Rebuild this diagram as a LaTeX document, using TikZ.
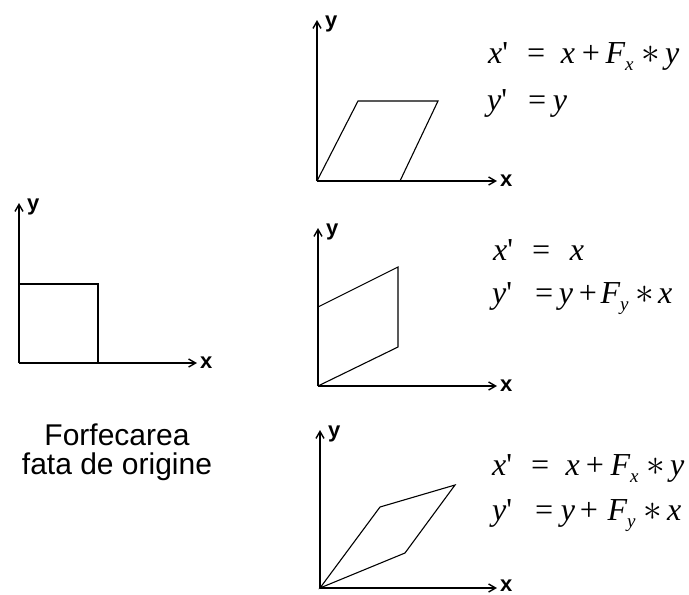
\documentclass[tikz,border=0pt]{standalone}
\usepackage{fontspec}
\setmainfont{Liberation Sans}
\newfontfamily\eqfont{Liberation Serif}
\usetikzlibrary{arrows.meta}
\newcommand\pr{\textup{'}}
\newcommand\sub[1]{\raisebox{-7pt}{\fontsize{19}{19}\selectfont #1}}
\newcommand\tms{\scalebox{1.5}{$\ast$}}

\begin{document}
\begin{tikzpicture}[
  x=1pt, y=-1pt,
  axis/.style={line width=1.4pt, -{Straight Barb[length=7pt, width=8pt]}},
  fig/.style={line width=1.1pt},
  albl/.style={font=\fontsize{22}{22}\selectfont\bfseries, inner sep=0pt, anchor=base west},
  eq/.style={font=\fontsize{32}{32}\eqfont\itshape, inner sep=0pt, anchor=base west},
  txt/.style={font=\fontsize{30}{30}\selectfont, inner sep=0pt, anchor=base}
]
\useasboundingbox (0,0) rectangle (689,595);

% --- Original square ---
\coordinate (o0) at (19,363);
\coordinate (y0) at (19,203);
\coordinate (x0) at (197,363);
\draw[axis] (o0) -- (y0);
\draw[axis] (o0) -- (x0);
\node[albl] (ly0) at ([xshift=8pt, yshift=-7pt]y0) {y};
\node[albl] (lx0) at ([xshift=3pt, yshift=-5pt]x0) {x};
\coordinate (a0) at (19,284);
\coordinate (b0) at (98,363);
\draw[fig] (a0) -| (b0);

\node[txt] (t1) at (117,445) {Forfecarea};
\node[txt] (t2) at (117,474) {fata de origine};

% --- Shear along x ---
\coordinate (o1) at (317,181);
\coordinate (y1) at (317,20);
\coordinate (x1) at (497,181);
\draw[axis] (o1) -- (y1);
\draw[axis] (o1) -- (x1);
\node[albl] (ly1) at ([xshift=8pt, yshift=-7pt]y1) {y};
\node[albl] (lx1) at ([xshift=3pt, yshift=-5pt]x1) {x};
\coordinate (p1a) at (358,101);
\coordinate (p1b) at (438,101);
\coordinate (p1c) at (400,181);
\draw[fig] (o1) -- (p1a) -- (p1b) -- (p1c);

\node[eq] (e1a) at (488,63)
  {x\pr\hspace{17pt}=\hspace{14pt}x\hspace{5pt}+\hspace{4pt}F\sub{x}\hspace{8pt}\tms\hspace{5pt}y};
\node[eq] (e1b) at (487,110) {y\pr\hspace{19pt}=\hspace{5pt}y};

% --- Shear along y ---
\coordinate (o2) at (318,386);
\coordinate (y2) at (318,228);
\coordinate (x2) at (497,386);
\draw[axis] (o2) -- (y2);
\draw[axis] (o2) -- (x2);
\node[albl] (ly2) at ([xshift=8pt, yshift=-7pt]y2) {y};
\node[albl] (lx2) at ([xshift=3pt, yshift=-5pt]x2) {x};
\coordinate (p2a) at (318,307);
\coordinate (p2b) at (398,267);
\coordinate (p2c) at (398,347);
\draw[fig] (p2a) -- (p2b) -- (p2c) -- (o2);

\node[eq] (e2a) at (493,260) {x\pr\hspace{17pt}=\hspace{18pt}x};
\node[eq] (e2b) at (492,303)
  {y\pr\hspace{21pt}=\hspace{4pt}y\hspace{4pt}+\hspace{2pt}F\sub{y}\hspace{7pt}\tms\hspace{4pt}x};

% --- Shear along both ---
\coordinate (o3) at (320,588);
\coordinate (y3) at (320,430);
\coordinate (x3) at (497,588);
\draw[axis] (o3) -- (y3);
\draw[axis] (o3) -- (x3);
\node[albl] (ly3) at ([xshift=8pt, yshift=-7pt]y3) {y};
\node[albl] (lx3) at ([xshift=3pt, yshift=-3pt]x3) {x};
\coordinate (p3a) at (380,507);
\coordinate (p3b) at (455,485);
\coordinate (p3c) at (405,553);
\draw[fig] (o3) -- (p3a) -- (p3b) -- (p3c) -- cycle;

\node[eq] (e3a) at (492,475)
  {x\pr\hspace{17pt}=\hspace{15pt}x\hspace{4pt}+\hspace{5pt}F\sub{x}\hspace{8pt}\tms\hspace{5pt}y};
\node[eq] (e3b) at (492,520)
  {y\pr\hspace{21pt}=\hspace{6pt}y\hspace{3pt}+\hspace{8pt}F\sub{y}\hspace{8pt}\tms\hspace{5pt}x};

\end{tikzpicture}
\end{document}
